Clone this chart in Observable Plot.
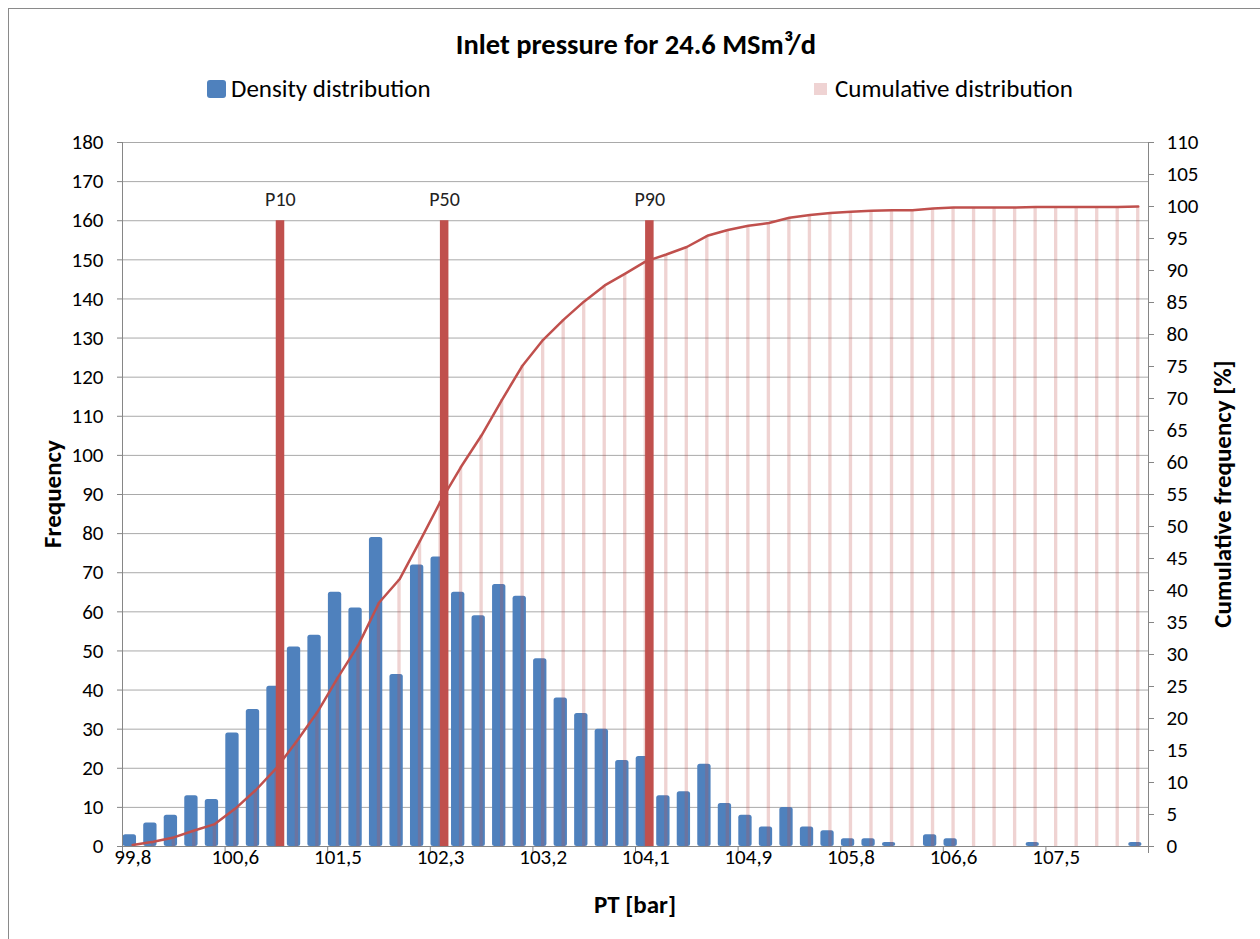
<!DOCTYPE html>
<html><head><meta charset="utf-8">
<script src="https://cdn.jsdelivr.net/npm/d3@7"></script>
<script src="https://cdn.jsdelivr.net/npm/@observablehq/plot@0.6"></script>
<style>
body{margin:0;background:#fff;}
#wrap{position:relative;width:1260px;height:939px;overflow:hidden;font-family:Carlito,Calibri,Lato,"Open Sans",sans-serif;color:#000;background:#fff;}
#frame{position:absolute;left:8px;top:8px;width:1300px;height:1000px;border:1.5px solid #8a8a8a;box-sizing:border-box;}
#title{position:absolute;left:0;width:1272px;top:28px;line-height:34px;text-align:center;font-weight:bold;font-size:28.5px;}
.leg{position:absolute;font-size:25px;line-height:28px;top:75px;white-space:nowrap;}
.sw{position:absolute;}
.ax{position:absolute;font-weight:bold;font-size:25px;white-space:nowrap;transform:translate(-50%,-50%) rotate(-90deg);}
#xlab{position:absolute;font-weight:bold;font-size:25px;white-space:nowrap;transform:translate(-50%,-50%);left:635px;top:904px;}
#chart{position:absolute;left:0;top:120px;}
</style></head>
<body><div id="wrap">
<div id="frame"></div>
<div id="title">Inlet pressure for 24.6 MSm³/d</div>
<div class="sw" style="left:207px;top:80px;width:19px;height:18px;background:#4F81BD;border-radius:3px;"></div>
<div class="leg" style="left:231px;">Density distribution</div>
<div class="sw" style="left:814px;top:83px;width:13px;height:12px;background:#EFD3D3;"></div>
<div class="leg" style="left:835px;">Cumulative distribution</div>
<div class="ax" style="left:52px;top:494px;">Frequency</div>
<div class="ax" style="left:1222px;top:494px;">Cumulative frequency [%]</div>
<div id="xlab">PT [bar]</div>
<div id="chart"></div>
</div>
<script>
// Frequency per PT bin (50 bins)
const density = [3,6,8,13,12,29,35,41,51,54,65,61,79,44,72,74,65,59,67,64,48,38,34,30,22,23,13,14,21,11,8,5,10,5,4,2,2,1,0,3,2,0,0,0,1,0,0,0,0,1];
// Cumulative frequency [%] per bin
const cumulative = [0.25,0.75,1.42,2.5,3.5,5.92,8.83,12.25,16.5,21.0,26.42,31.5,38.08,41.75,47.75,53.92,59.33,64.25,69.83,75.17,79.17,82.33,85.17,87.67,89.5,91.42,92.5,93.67,95.42,96.33,97.0,97.42,98.25,98.67,99.0,99.17,99.33,99.42,99.42,99.67,99.83,99.83,99.83,99.83,99.92,99.92,99.92,99.92,99.92,100];
const bins = d3.range(density.length);
const tickBins = [0,5,10,15,20,25,30,35,40,45];
const tickLabels = ["99,8","100,6","101,5","102,3","103,2","104,1","104,9","105,8","106,6","107,5"];
const percentileLabels = ["P10","P50","P90"];
const percentileBins = [7,15,25];
const percentileHeight = 160;
const leftTicks = [0,10,20,30,40,50,60,70,80,90,100,110,120,130,140,150,160,170,180];
const rightTicks = [0,5,10,15,20,25,30,35,40,45,50,55,60,65,70,75,80,85,90,95,100,105,110];
const leftMax = 180, rightMax = 110;

const k = leftMax / rightMax;
const dens = bins.map(i => ({bin: i, v: density[i]}));
const cum = bins.map(i => ({bin: i, v: cumulative[i] * k}));
const pct = percentileLabels.map((l, j) => ({label: l, bin: percentileBins[j], v: percentileHeight}));
const half = 1026 / density.length / 2;
const axisColor = "#868686";
const font = "Carlito, Calibri, Lato, 'Open Sans', sans-serif";

const chart = Plot.plot({
  width: 1260, height: 819,
  marginLeft: 122, marginRight: 112, marginTop: 22, marginBottom: 93,
  style: {fontFamily: font, fontSize: "21px", color: "#000", background: "transparent"},
  x: {type: "band", domain: bins, padding: 0, round: false},
  y: {domain: [0, leftMax]},
  marks: [
    Plot.gridY(leftTicks, {stroke: "#a9a9a9", strokeOpacity: 1}),
    Plot.barY(dens, {x: "bin", y: "v", fill: "#4F81BD", insetLeft: 0.7, insetRight: 6.5, rx: 2.5}),
    Plot.barY(cum, {x: "bin", y: "v", fill: "#C0504D", fillOpacity: 0.25, insetLeft: 8.6, insetRight: 8.6}),
    Plot.barY(pct, {x: "bin", y: "v", fill: "#C0504D", insetLeft: 10.1, insetRight: 1.9}),
    Plot.line(cum, {x: "bin", y: "v", stroke: "#C0504D", strokeWidth: 2.5}),
    Plot.text(pct, {x: "bin", y: "v", text: "label", dx: 4, dy: -21, fontSize: 20, fill: "#222"}),
    Plot.ruleY([0], {stroke: axisColor}),
    Plot.ruleX([bins[0]], {dx: -half, insetBottom: -7, stroke: axisColor}),
    Plot.ruleX([bins[bins.length - 1]], {dx: half, insetBottom: -7, stroke: axisColor}),
    Plot.ruleX(tickBins.slice(1), {dx: -half, insetTop: 704, insetBottom: -7, stroke: axisColor}),
    Plot.axisY(leftTicks, {anchor: "left", tickSize: 5, tickPadding: 14, stroke: axisColor, label: null, fontSize: 21}),
    Plot.axisY(rightTicks.map(v => v * k), {anchor: "right", tickSize: 5, tickPadding: 13, stroke: axisColor, label: null, fontSize: 21, tickFormat: d => String(Math.round(d / k))}),
    Plot.axisX(tickBins, {tickSize: 0, tickPadding: 3, label: null, fontSize: 21, tickFormat: d => tickLabels[tickBins.indexOf(d)]})
  ]
});
document.getElementById("chart").appendChild(chart);
</script>
</body></html>
